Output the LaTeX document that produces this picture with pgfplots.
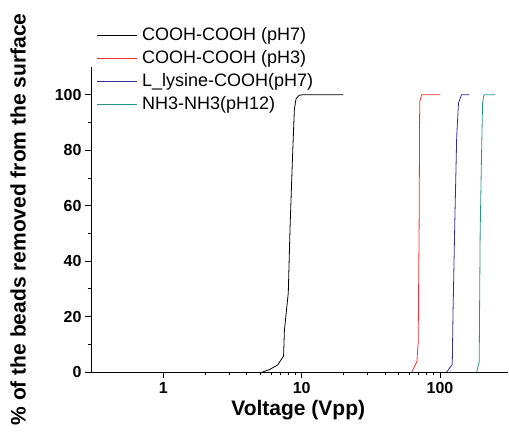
\documentclass[border=0pt]{standalone}
\usepackage{fontspec}
\setmainfont{Liberation Sans}
\usepackage{pgfplots}
\pgfplotsset{compat=1.18}
\definecolor{redline}{RGB}{240,50,50}
\definecolor{blueline}{RGB}{50,50,150}
\definecolor{tealline}{RGB}{40,150,135}
\newcommand{\tickfont}{\fontsize{16}{16}\selectfont\bfseries}
\begin{document}
\begin{tikzpicture}
\begin{semilogxaxis}[name=ax, scale only axis, width=417pt, height=305pt,
  xmin=0.3, xmax=310, ymin=0, ymax=110,
  axis x line*=bottom, axis y line*=left,
  axis line style={line width=0.8pt, -},
  xtick={1,10,100}, xticklabels={1,10,100},
  ytick={0,20,40,60,80,100}, minor ytick={10,30,50,70,90},
  tick align=outside, major tick length=6pt, minor tick length=3.5pt,
  every tick/.style={black, line width=0.8pt},
  /pgf/number format/assume math mode=true,
  tick label style={font=\tickfont},
  xticklabel style={yshift=-1pt},
  xlabel={Voltage (Vpp)}, ylabel={\% of the beads removed from the surface},
  every axis x label/.style={at={(axis description cs:0.497,-0.125)}, anchor=center, font=\fontsize{21}{21}\selectfont\bfseries},
  every axis y label/.style={at={(axis description cs:-0.175,0.5)}, rotate=90, anchor=center, font=\fontsize{21}{21}\selectfont\bfseries},
  legend style={draw=none, fill=none, at={(axis description cs:0.012,1.135)}, anchor=north west,
    font=\fontsize{18}{18}\selectfont, row sep=4pt, inner sep=0pt,
    nodes={text height=13pt, text depth=4pt, inner sep=1pt}},
  legend cell align=left,
  legend image code/.code={\draw[#1, line width=1.1pt] (0pt,0pt) -- (40pt,0pt); \path (44pt,0pt);},
  every axis plot/.append style={line width=0.8pt}]
\addplot[black] coordinates {(5.2,0) (5.8,0.8) (6.7,2.5) (7.4,5.8) (7.5,15) (8.0,28.5) (8.24,52) (8.57,76.5) (8.85,94.6) (9.1,98.5) (9.6,99.8) (10.2,100) (20,100)};
\addlegendentry{COOH-COOH (pH7)}
\addplot[redline] coordinates {(62.5,0) (68,3.7) (69.5,10.4) (70.6,52) (71.3,97.5) (73.7,100) (100,100)};
\addlegendentry{COOH-COOH (pH3)}
\addplot[blueline] coordinates {(111.7,0) (122.6,2.7) (124,20) (128,55) (132,85) (136,97) (143,100) (163,100)};
\addlegendentry{L\_lysine-COOH(pH7)}
\addplot[tealline] coordinates {(184,0) (192,3.7) (193,20) (195,50) (199,75) (203,97) (208,100) (249,100)};
\addlegendentry{NH3-NH3(pH12)}
\end{semilogxaxis}
\pgfresetboundingbox
\path ([shift={(-91pt,-69pt)}]ax.south west) rectangle ([shift={(1pt,67pt)}]ax.north east);
\end{tikzpicture}
\end{document}
